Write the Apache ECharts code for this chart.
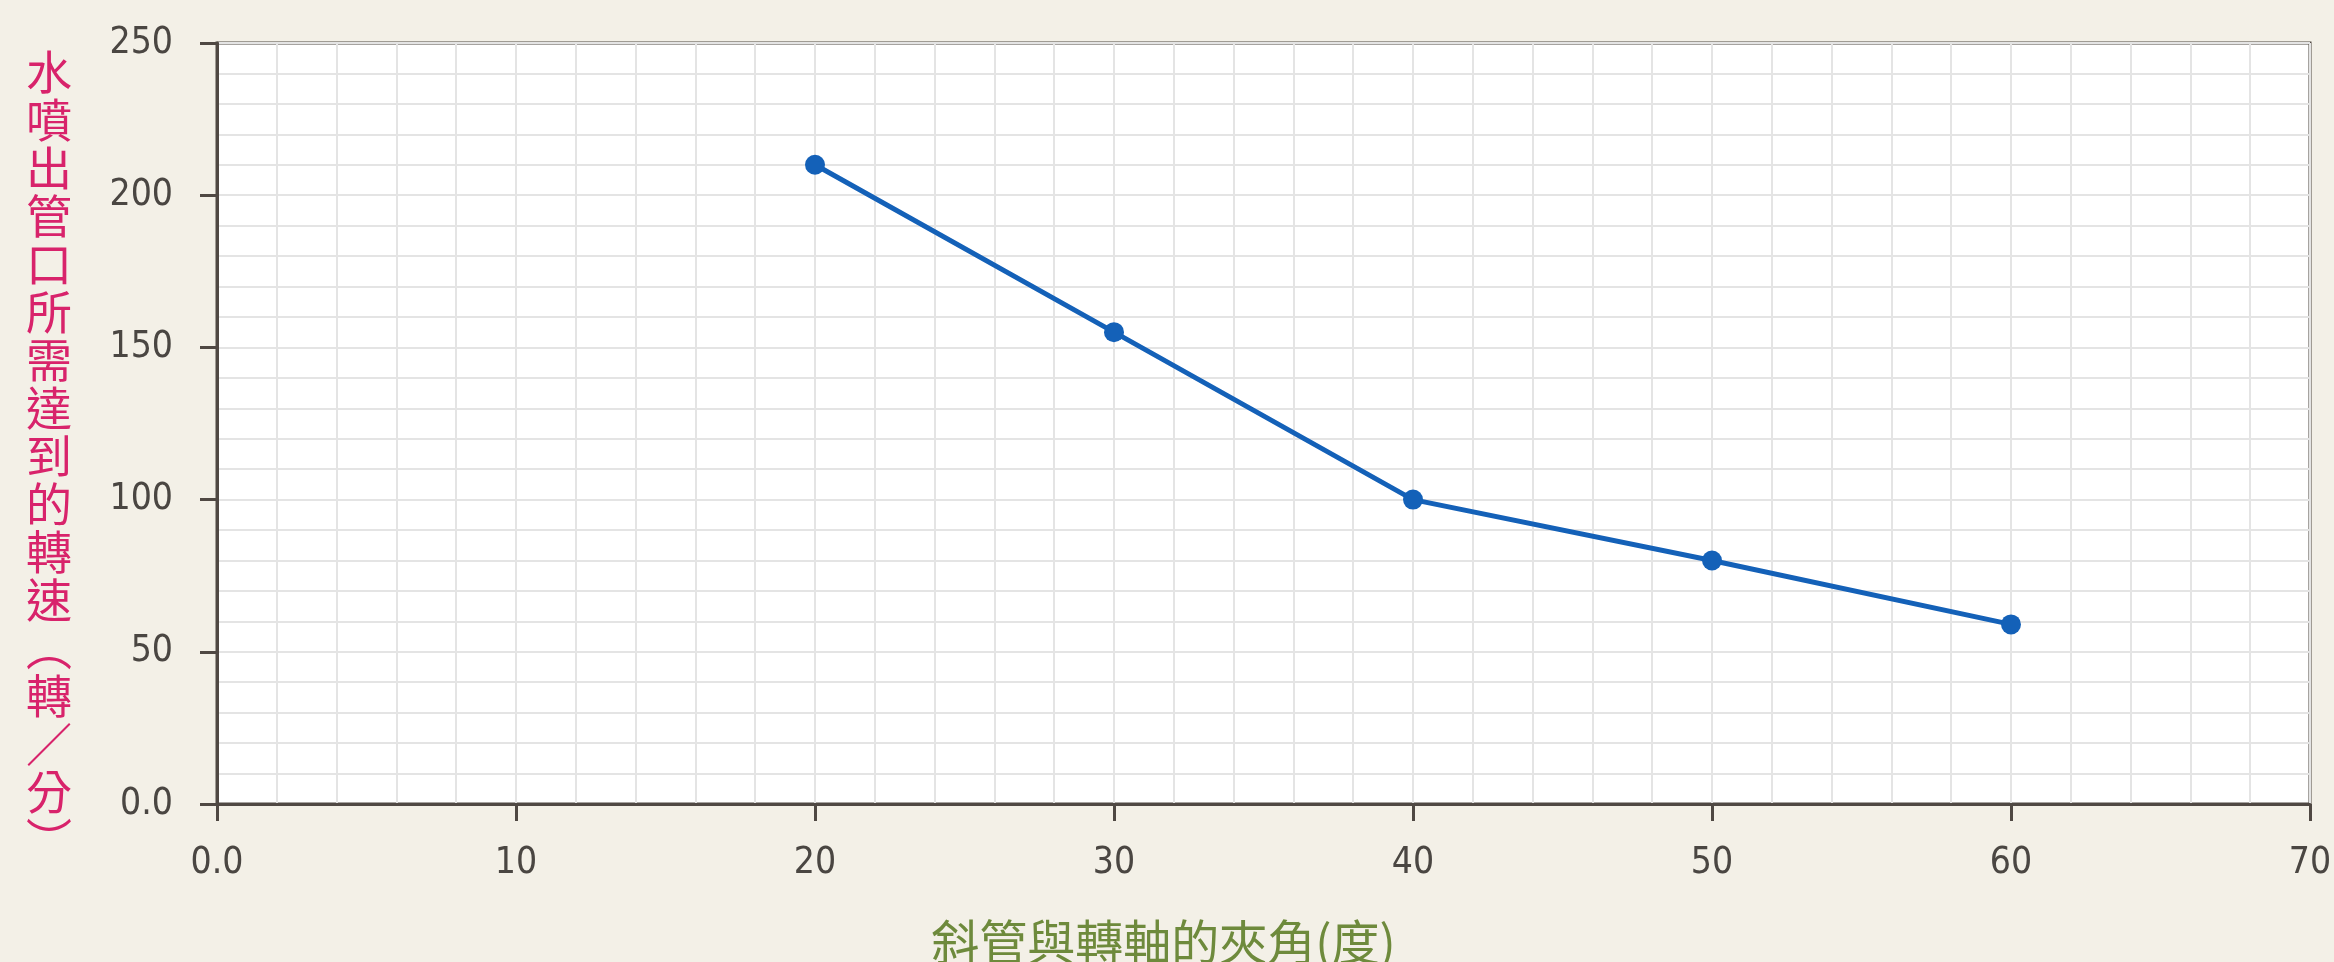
<!DOCTYPE html>
<html>
<head>
<meta charset="utf-8">
<script src="https://cdn.jsdelivr.net/npm/echarts@6/dist/echarts.min.js"></script>
<style>
html,body{margin:0;padding:0;background:#f3f0e7;}
#chart{width:2334px;height:962px;}
</style>
</head>
<body>
<div id="chart"></div>
<script>
// Data
const angles = [20, 30, 40, 50, 60];
const speeds = [210, 155, 100, 80, 59];
const xTicks = [0, 10, 20, 30, 40, 50, 60, 70];
const xTickLabels = ['0.0', '10', '20', '30', '40', '50', '60', '70'];
const yTicks = [0, 50, 100, 150, 200, 250];
const yTickLabels = ['0.0', '50', '100', '150', '200', '250'];
const xTitle = '斜管與轉軸的夾角(度)';
const yTitleChars = ['水','噴','出','管','口','所','需','達','到','的','轉','速','︵','轉','／','分','︶'];

const numFont = '"Liberation Sans Narrow", "DejaVu Sans", sans-serif';
const cjkFont = '"Noto Sans CJK TC", "Noto Sans CJK SC", sans-serif';
const axisColor = '#4f4843';
const gridColor = '#e4e4e4';

const chart = echarts.init(document.getElementById('chart'), null, {renderer: 'canvas'});
chart.setOption({
  backgroundColor: '#f3f0e7',
  animation: false,
  title: {
    text: yTitleChars.join('\n'),
    left: 21, top: 43,
    textStyle: {fontFamily: cjkFont, fontSize: 46, lineHeight: 48, fontWeight: 'normal', color: '#d8236b'}
  },
  grid: {
    left: 217, right: 24, top: 43, bottom: 158,
    outerBoundsMode: 'none',
    containLabel: false,
    show: true, backgroundColor: '#ffffff',
    borderColor: axisColor, borderWidth: 3
  },
  xAxis: {
    type: 'value',
    min: xTicks[0], max: xTicks[xTicks.length - 1], interval: 10,
    name: xTitle,
    nameLocation: 'middle',
    nameGap: 114,
    nameTextStyle: {fontFamily: cjkFont, fontSize: 48, color: '#6e8a3c', padding: [0, 200, 0, 0]},
    axisLine: {show: true, lineStyle: {color: axisColor, width: 3}},
    axisTick: {show: true, length: 17, lineStyle: {color: axisColor, width: 3}},
    axisLabel: {
      margin: 41, color: '#4a4642', fontFamily: numFont, fontWeight: 'condensed', fontSize: 37,
      formatter: v => xTickLabels[xTicks.indexOf(v)] ?? ''
    },
    splitLine: {show: true, lineStyle: {color: gridColor, width: 2}},
    minorTick: {show: false, splitNumber: 5},
    minorSplitLine: {show: true, lineStyle: {color: gridColor, width: 2}}
  },
  yAxis: {
    type: 'value',
    min: yTicks[0], max: yTicks[yTicks.length - 1], interval: 50,
    axisLine: {show: true, lineStyle: {color: axisColor, width: 3}},
    axisTick: {show: true, length: 17, lineStyle: {color: axisColor, width: 3}},
    axisLabel: {
      margin: 44, color: '#4a4642', fontFamily: numFont, fontWeight: 'condensed', fontSize: 37,
      formatter: v => yTickLabels[yTicks.indexOf(v)] ?? ''
    },
    splitLine: {show: true, lineStyle: {color: gridColor, width: 2}},
    minorTick: {show: false, splitNumber: 5},
    minorSplitLine: {show: true, lineStyle: {color: gridColor, width: 2}}
  },
  series: [{
    type: 'line',
    data: angles.map((a, i) => [a, speeds[i]]),
    symbol: 'circle',
    symbolSize: 20,
    itemStyle: {color: '#1461b8'},
    lineStyle: {color: '#1461b8', width: 5},
    z: 5
  }]
});
</script>
</body>
</html>
